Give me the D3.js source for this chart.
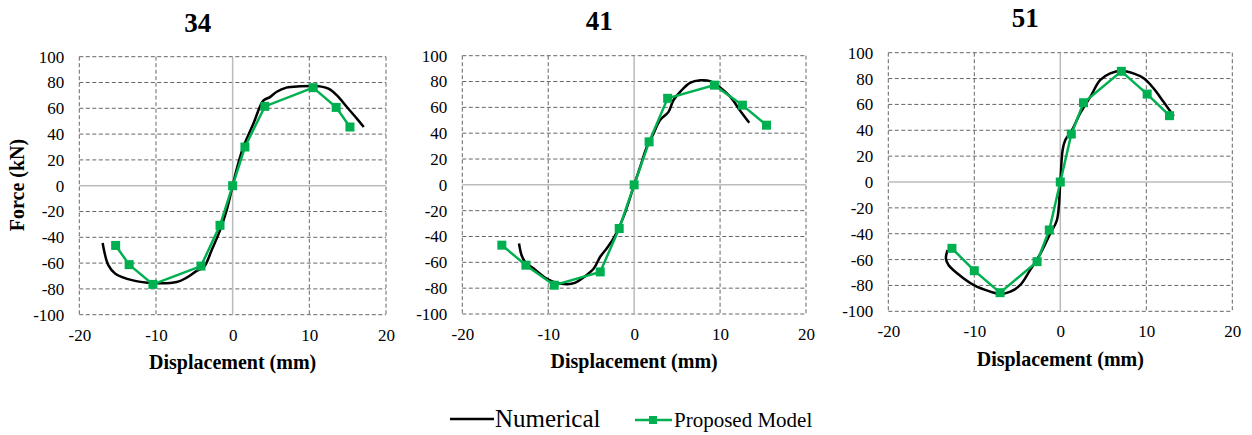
<!DOCTYPE html>
<html><head><meta charset="utf-8">
<script src="https://cdn.jsdelivr.net/npm/d3@7"></script>
<style>body{margin:0;background:#fff}svg{display:block}text{font-family:"Liberation Serif","Times New Roman",serif}</style>
</head><body>
<svg id="c" width="1252" height="435"></svg>
<script>
const xTicks = [-20, -10, 0, 10, 20];
const yTicks = [-100, -80, -60, -40, -20, 0, 20, 40, 60, 80, 100];
const titles = ["34", "41", "51"];

const num34 = [[-16.96,-44.4],[-16.2,-61.8],[-15.3,-68.2],[-13,-73.4],[-10.35,-75.5],[-7.3,-74.7],[-6,-71.3],[-4.7,-66],[-3.74,-63],[-2.74,-50],[-1.65,-34.6],[-0.78,-19],[0,0],[0.6,14.5],[1.4,30],[2.7,48],[4,66],[4.87,68.7],[5.7,72.6],[7,76],[8.8,77],[11.4,77],[12.5,75.2],[13.6,70],[14.9,61],[16.2,52],[17.1,45.5]];
const mod34 = [[-15.26,-46.3],[-13.5,-61.2],[-10.4,-76.5],[-4.13,-62.3],[-1.65,-30.7],[0,0],[1.6,30],[4.2,61.5],[10.5,76],[13.5,60.7],[15.3,45.5]];

const num41 = [[-13.4,-45.4],[-13.1,-54.5],[-12.7,-59.6],[-11.7,-64.8],[-10.2,-72.5],[-9,-75.9],[-7.8,-76.9],[-6.9,-75.9],[-5.9,-71.7],[-4.7,-64.8],[-3.95,-55.7],[-3.2,-49.3],[-2.4,-41.5],[-1.24,-24.8],[0,0],[0.7,13.9],[1.47,29.4],[2.25,39.7],[3.0,50],[4,56.5],[4.57,65.5],[5.35,72],[6.5,79],[7.7,81],[8.84,80.3],[10,75.4],[11.2,68.1],[12.3,57.8],[13.4,48]];
const mod41 = [[-15.4,-46.7],[-12.6,-62.2],[-9.3,-77.7],[-3.95,-67.4],[-1.74,-33.8],[0,0],[1.74,33.3],[3.9,67],[9.34,77.2],[12.6,61.7],[15.4,46.2]];

const num51 = [[-13.1,-52.6],[-13.3,-59],[-13,-64.2],[-12,-70.6],[-10.1,-79.6],[-8.14,-84.8],[-7,-86.6],[-5.8,-84.8],[-4.65,-79.6],[-3.5,-68],[-2.3,-55.2],[-1.16,-39.7],[-0.39,-29.4],[0,0],[0.27,24.7],[0.58,32.5],[1.36,40.2],[2.3,53],[3.5,66],[4.65,78.9],[5.8,84],[7.1,86],[8.5,84],[9.7,80.2],[10.85,72.4],[12,62],[13.2,51]];
const mod51 = [[-12.6,-51.3],[-10,-68.6],[-7.0,-85.6],[-2.7,-61.6],[-1.28,-37.1],[0,0],[1.28,37.1],[2.7,61.3],[7.1,85.6],[10.1,68],[12.7,51.3]];

const numerical = [num34, num41, num51];
const model = [mod34, mod41, mod51];

const GREEN = "#00b050";
const SERIF = '"Liberation Serif","Times New Roman",serif';
const boxes = [
  {l:79.3, r:386, t:56.7, b:314.7, titleY:32, xlabY:369},
  {l:462.3, r:806, t:55.7, b:314, titleY:29.5, xlabY:368},
  {l:888.3, r:1232.3, t:52.7, b:311.3, titleY:27, xlabY:366}
];

const svg = d3.select("#c");

boxes.forEach((bx, i) => {
  const x = d3.scaleLinear().domain([-20, 20]).range([bx.l, bx.r]);
  const y = d3.scaleLinear().domain([-100, 100]).range([bx.b, bx.t]);
  const g = svg.append("g");

  yTicks.filter(v => v !== 0).forEach(v => {
    g.append("line").attr("x1", bx.l).attr("x2", bx.r).attr("y1", y(v)).attr("y2", y(v))
      .attr("stroke", "#666").attr("stroke-width", 1).attr("stroke-dasharray", "4,2.5");
  });
  xTicks.filter(v => v !== 0).forEach(v => {
    g.append("line").attr("y1", bx.t).attr("y2", bx.b).attr("x1", x(v)).attr("x2", x(v))
      .attr("stroke", "#666").attr("stroke-width", 1).attr("stroke-dasharray", "4,2.5");
  });
  g.append("line").attr("x1", bx.l).attr("x2", bx.r).attr("y1", y(0)).attr("y2", y(0))
    .attr("stroke", "#bbb").attr("stroke-width", 1.5);
  g.append("line").attr("y1", bx.t).attr("y2", bx.b).attr("x1", x(0)).attr("x2", x(0))
    .attr("stroke", "#bbb").attr("stroke-width", 1.5);

  const ya = d3.axisLeft(y).tickValues(yTicks).tickFormat(d => String(d)).tickSize(0).tickPadding(15);
  const ga = g.append("g").attr("transform", `translate(${bx.l},0)`).call(ya)
    .attr("font-family", SERIF).attr("font-size", 17);
  ga.select(".domain").remove();
  ga.selectAll("text").attr("fill", "#000");
  const xa = d3.axisBottom(x).tickValues(xTicks).tickFormat(d => String(d)).tickSize(0).tickPadding(14);
  const gx = g.append("g").attr("transform", `translate(0,${bx.b})`).call(xa)
    .attr("font-family", SERIF).attr("font-size", 17);
  gx.select(".domain").remove();
  gx.selectAll("text").attr("fill", "#000");

  g.append("text").attr("x", (bx.l + bx.r) / 2 - 35).attr("y", bx.titleY)
    .attr("text-anchor", "middle").attr("font-weight", "bold").attr("font-size", 27).text(titles[i]);
  g.append("text").attr("x", x(0)).attr("y", bx.xlabY)
    .attr("text-anchor", "middle").attr("font-weight", "bold").attr("font-size", 20).text("Displacement (mm)");

  const line = d3.line().x(d => x(d[0])).y(d => y(d[1])).curve(d3.curveCatmullRom.alpha(0.5));
  g.append("path").datum(numerical[i]).attr("d", line)
    .attr("fill", "none").attr("stroke", "#000").attr("stroke-width", 2.5);
  const line2 = d3.line().x(d => x(d[0])).y(d => y(d[1]));
  g.append("path").datum(model[i]).attr("d", line2)
    .attr("fill", "none").attr("stroke", GREEN).attr("stroke-width", 2.5);
  g.selectAll("rect.m").data(model[i]).enter().append("rect")
    .attr("x", d => x(d[0]) - 4.5).attr("y", d => y(d[1]) - 4.5)
    .attr("width", 9).attr("height", 9).attr("fill", GREEN);
});

svg.append("text").attr("transform", "translate(24,185) rotate(-90)")
  .attr("text-anchor", "middle").attr("font-weight", "bold").attr("font-size", 20).text("Force (kN)");

svg.append("line").attr("x1", 450).attr("x2", 494).attr("y1", 419).attr("y2", 419)
  .attr("stroke", "#000").attr("stroke-width", 2.5);
svg.append("text").attr("x", 495).attr("y", 427).attr("font-size", 25).text("Numerical");
svg.append("line").attr("x1", 635).attr("x2", 672).attr("y1", 420).attr("y2", 420)
  .attr("stroke", GREEN).attr("stroke-width", 2.5);
svg.append("rect").attr("x", 649).attr("y", 416).attr("width", 8).attr("height", 8).attr("fill", GREEN);
svg.append("text").attr("x", 674).attr("y", 427).attr("font-size", 21).text("Proposed Model");
</script>
</body></html>
